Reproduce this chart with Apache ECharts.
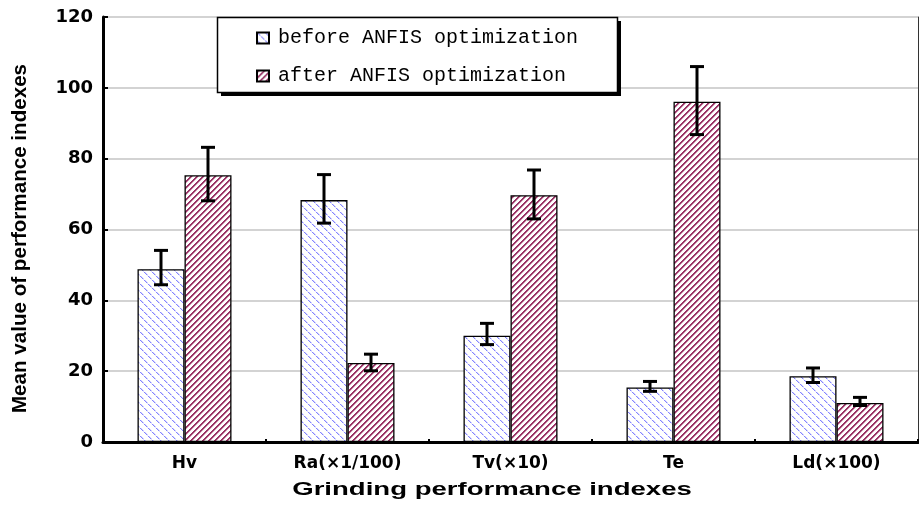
<!DOCTYPE html>
<html>
<head>
<meta charset="utf-8">
<script src="https://cdn.jsdelivr.net/npm/echarts@6/dist/echarts.min.js"></script>
<style>
  html, body { margin: 0; padding: 0; background: #fff; }
  #chart { width: 919px; height: 511px; }
</style>
</head>
<body>
<div id="chart"></div>
<script>
// Grinding performance indexes, before vs after ANFIS optimization
const categories = ['Hv', 'Ra(×1/100)', 'Tv(×10)', 'Te', 'Ld(×100)'];
const beforeValues = [48.8, 68.3, 30.0, 15.4, 18.6];
const afterValues = [75.3, 22.3, 69.7, 96.1, 11.0];
// error bar ranges [low, high]
const beforeErr = [[44.4, 54.1], [61.8, 75.5], [27.5, 33.5], [14.3, 17.1], [16.8, 20.9]];
const afterErr = [[68.1, 83.2], [20.1, 24.8], [63.0, 76.8], [86.8, 106.0], [10.3, 12.6]];
const yTicks = [0, 20, 40, 60, 80, 100, 120];
const seriesNames = ['before ANFIS optimization', 'after ANFIS optimization'];

// hatch fills
function makeTile(size, paint) {
  const c = document.createElement('canvas');
  c.width = size; c.height = size;
  const ctx = c.getContext('2d');
  ctx.fillStyle = '#ffffff';
  ctx.fillRect(0, 0, size, size);
  for (let y = 0; y < size; y++) {
    for (let x = 0; x < size; x++) {
      const col = paint(x, y);
      if (col) { ctx.fillStyle = col; ctx.fillRect(x, y, 1, 1); }
    }
  }
  return c;
}
// light blue dashed back-diagonal lines
const beforeTile = makeTile(8, (x, y) => {
  const d = ((x - y) % 8 + 8) % 8;
  if (d === 0) return (y % 4 === 3) ? '#d8d8ff' : '#8484ff';
  if (d === 1) return (y % 4 === 3) ? null : '#d4d4ff';
  return null;
});
// dense maroon forward-diagonal stripes
const afterTile = makeTile(6, (x, y) => {
  const d = (x + y) % 6;
  if (d === 0 || d === 1) return '#993366';
  if (d === 2) return '#d6aabd';
  return null;
});

const barWidth = 47;
const half = barWidth / 2;

function errorRenderer(offset) {
  return function (params, api) {
    const idx = api.value(0);
    const lo = api.coord([idx, api.value(1)]);
    const hi = api.coord([idx, api.value(2)]);
    const cx = lo[0] + offset;
    const capHalf = 7;
    const style = { stroke: '#000', lineWidth: 3 };
    return {
      type: 'group',
      children: [
        { type: 'line', shape: { x1: cx, y1: hi[1], x2: cx, y2: lo[1] }, style: style },
        { type: 'line', shape: { x1: cx - capHalf, y1: hi[1], x2: cx + capHalf, y2: hi[1] }, style: style },
        { type: 'line', shape: { x1: cx - capHalf, y1: lo[1], x2: cx + capHalf, y2: lo[1] }, style: style }
      ]
    };
  };
}

const chart = echarts.init(document.getElementById('chart'), null, { renderer: 'canvas' });

chart.setOption({
  animation: false,
  backgroundColor: '#fff',
  grid: { left: 103, right: 1, top: 17, bottom: 69 },
  legend: {
    data: seriesNames,
    orient: 'vertical',
    left: 217,
    top: 17,
    z: 10,
    icon: 'rect',
    itemWidth: 12,
    itemHeight: 11,
    itemGap: 18,
    padding: [11, 40, 6, 39],
    selectedMode: false,
    textStyle: {
      fontFamily: 'Liberation Mono',
      fontSize: 20,
      lineHeight: 20,
      color: '#000',
      padding: [0, 0, 0, 4]
    }
  },
  xAxis: [
    {
      type: 'category',
      data: categories,
      axisLine: { lineStyle: { color: '#000', width: 3 } },
      axisTick: { show: true, inside: true, length: 3, lineStyle: { color: '#000', width: 2 } },
      axisLabel: {
        margin: 13,
        color: '#000',
        fontFamily: 'DejaVu Sans',
        fontWeight: 'bold',
        fontSize: 17
      },
      splitLine: { show: false }
    },
    {
      type: 'category',
      data: categories,
      position: 'top',
      axisLine: { lineStyle: { color: '#000', width: 2 } },
      axisTick: { show: false },
      axisLabel: { show: false },
      splitLine: { show: false }
    }
  ],
  yAxis: [
    {
      type: 'value',
      min: yTicks[0],
      max: yTicks[yTicks.length - 1],
      interval: 20,
      name: 'Mean value of performance indexes',
      nameLocation: 'middle',
      nameRotate: 90,
      nameGap: 72,
      nameTextStyle: {
        fontFamily: 'Liberation Sans',
        fontWeight: 'bold',
        fontSize: 20.6,
        color: '#000',
        padding: [0, 18, 0, 0]
      },
      axisLine: { show: true, lineStyle: { color: '#000', width: 3 } },
      axisTick: { show: true, inside: true, length: 5, lineStyle: { color: '#000', width: 2 } },
      axisLabel: {
        margin: 10,
        color: '#000',
        fontFamily: 'DejaVu Sans',
        fontWeight: 'bold',
        fontSize: 18
      },
      splitLine: {
        show: true,
        lineStyle: { color: '#c4c4c4', width: 1.5 }
      }
    },
    {
      type: 'value',
      position: 'right',
      min: yTicks[0],
      max: yTicks[yTicks.length - 1],
      interval: 20,
      axisLine: { show: true, lineStyle: { color: '#333', width: 1 } },
      axisTick: { show: false },
      axisLabel: { show: false },
      splitLine: { show: false }
    }
  ],
  graphic: [
    // legend frame with drop shadow
    {
      type: 'rect',
      z: 8,
      shape: { x: 221, y: 21, width: 400, height: 75 },
      style: { fill: '#000' }
    },
    {
      type: 'rect',
      z: 9,
      shape: { x: 217.5, y: 17.5, width: 400, height: 75 },
      style: { fill: '#fff', stroke: '#000', lineWidth: 1.5 }
    },
    {
      type: 'text',
      x: 492,
      y: 490,
      scaleX: 1.45,
      scaleY: 1,
      style: {
        text: 'Grinding performance indexes',
        fontFamily: 'Liberation Sans',
        fontWeight: 'bold',
        fontSize: 19,
        fill: '#000',
        textAlign: 'center',
        textVerticalAlign: 'middle'
      }
    }
  ],
  series: [
    {
      name: seriesNames[0],
      type: 'bar',
      data: beforeValues,
      barWidth: barWidth,
      barGap: '0%',
      itemStyle: {
        color: { image: beforeTile, repeat: 'repeat' },
        borderColor: '#000',
        borderWidth: 1.3
      }
    },
    {
      name: seriesNames[1],
      type: 'bar',
      data: afterValues,
      barWidth: barWidth,
      barGap: '0%',
      itemStyle: {
        color: { image: afterTile, repeat: 'repeat' },
        borderColor: '#000',
        borderWidth: 1.3
      }
    },
    {
      name: 'before-err',
      type: 'custom',
      renderItem: errorRenderer(-half),
      data: beforeErr.map((r, i) => [i, r[0], r[1]]),
      z: 5
    },
    {
      name: 'after-err',
      type: 'custom',
      renderItem: errorRenderer(half),
      data: afterErr.map((r, i) => [i, r[0], r[1]]),
      z: 5
    }
  ]
});
</script>
</body>
</html>
